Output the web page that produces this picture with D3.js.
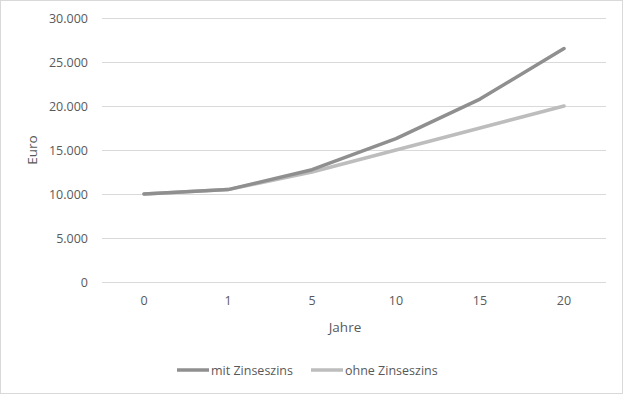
<!DOCTYPE html>
<html>
<head>
<meta charset="utf-8">
<script src="https://cdn.jsdelivr.net/npm/d3@7"></script>
<style>
  body { margin: 0; background: #fff; }
  text { font-family: "Open Sans", "Noto Sans", sans-serif; fill: #595959; }
</style>
</head>
<body>
<svg id="chart" width="624" height="395"></svg>
<script>
  const years = ['0', '1', '5', '10', '15', '20'];
  const mitZinseszins = [10000, 10500, 12763, 16289, 20789, 26533];
  const ohneZinseszins = [10000, 10500, 12500, 15000, 17500, 20000];
  const yTicks = [0, 5000, 10000, 15000, 20000, 25000, 30000];

  const series = [
    {name: 'mit Zinseszins', values: mitZinseszins, color: '#8f8f8f'},
    {name: 'ohne Zinseszins', values: ohneZinseszins, color: '#bdbdbd'}
  ];

  let svg = d3.select('#chart'),
    width = 624,
    height = 395,
    paddingLeft = 102,
    paddingRight = 18,
    paddingTop = 18,
    plotBottom = 282;

  // outer chart border
  svg.append('rect')
    .attr('x', 0.5).attr('y', 0.5)
    .attr('width', width - 2).attr('height', height - 2)
    .attr('fill', '#fff')
    .attr('stroke', '#d9d9d9');

  let scaleX = d3.scaleBand()
    .domain(years)
    .range([paddingLeft, width - paddingRight]);

  let scaleY = d3.scaleLinear()
    .domain([0, 30000])
    .range([plotBottom, paddingTop]);

  let fmt = d3.formatLocale({decimal: ',', thousands: '.', grouping: [3], currency: ['', '€']}).format(',.0f');

  // gridlines + y labels
  let axisY = d3.axisLeft(scaleY)
    .tickValues(yTicks)
    .tickFormat(fmt)
    .tickSize(-(width - paddingRight - paddingLeft))
    .tickPadding(14);

  svg.append('g')
    .attr('class', 'axis-y')
    .attr('transform', 'translate(' + paddingLeft + ',0)')
    .call(axisY)
    .call(g => g.select('.domain').remove())
    .call(g => g.selectAll('.tick line').attr('stroke', '#d9d9d9'))
    .call(g => g.selectAll('.tick text').style('font-size', '12.5px').attr('fill', '#595959'));

  let axisX = d3.axisBottom(scaleX).tickSize(0).tickPadding(14);

  svg.append('g')
    .attr('class', 'axis-x')
    .attr('transform', 'translate(0,' + plotBottom + ')')
    .call(axisX)
    .call(g => g.select('.domain').remove())
    .call(g => g.selectAll('.tick text').style('font-size', '12.5px').attr('fill', '#595959'));

  // axis titles
  svg.append('text')
    .attr('transform', 'translate(37,150) rotate(-90)')
    .attr('text-anchor', 'middle')
    .style('font-size', '13.5px')
    .text('Euro');

  svg.append('text')
    .attr('x', 345).attr('y', 332)
    .attr('text-anchor', 'middle')
    .style('font-size', '13.5px')
    .text('Jahre');

  // lines
  let line = d3.line()
    .x((d, i) => scaleX(years[i]) + scaleX.bandwidth() / 2)
    .y(d => scaleY(d));

  svg.append('g')
    .attr('class', 'lines')
    .selectAll('path')
    .data(series.slice().reverse())
    .enter()
    .append('path')
    .attr('d', d => line(d.values))
    .attr('fill', 'none')
    .attr('stroke', d => d.color)
    .attr('stroke-width', 3.5)
    .attr('stroke-linejoin', 'round')
    .attr('stroke-linecap', 'round');

  // legend
  let legendPos = [177, 311];
  let legend = svg.append('g').attr('class', 'legend');
  series.forEach(function (s, i) {
    let x0 = legendPos[i];
    legend.append('line')
      .attr('x1', x0).attr('x2', x0 + 32)
      .attr('y1', 370).attr('y2', 370)
      .attr('stroke', s.color)
      .attr('stroke-width', 3.5);
    legend.append('text')
      .attr('x', x0 + 34).attr('y', 375)
      .style('font-size', '12.5px')
      .text(s.name);
  });
</script>
</body>
</html>
